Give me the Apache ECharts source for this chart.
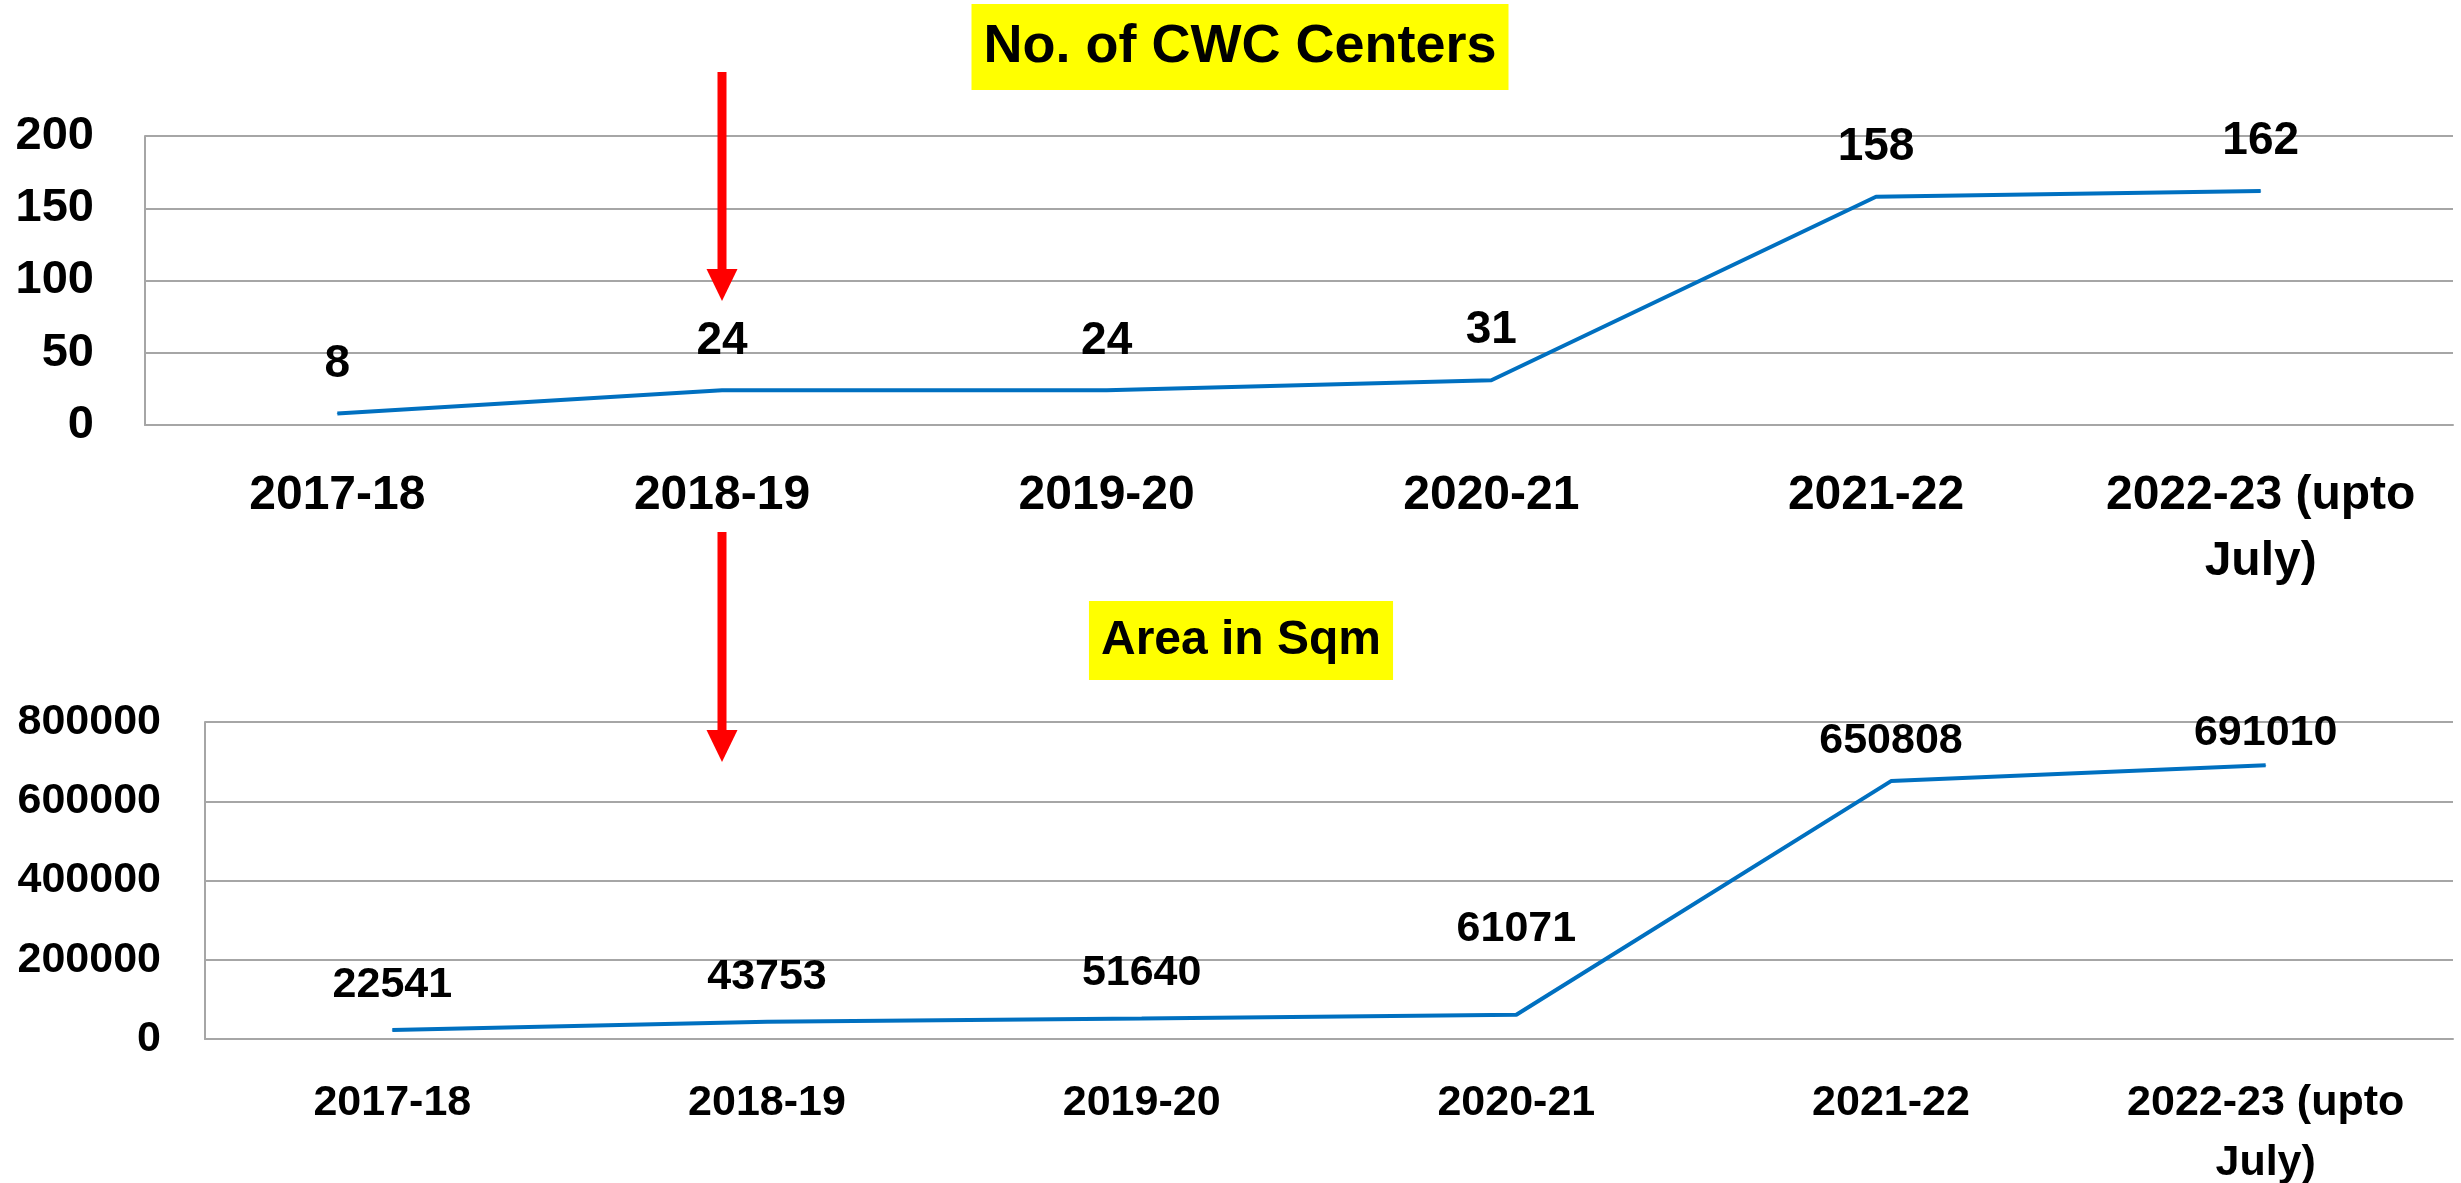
<!DOCTYPE html>
<html>
<head>
<meta charset="utf-8">
<script src="https://cdn.jsdelivr.net/npm/echarts@6/dist/echarts.min.js"></script>
<style>
  html, body { margin: 0; padding: 0; background: #fff; }
  #main { width: 2461px; height: 1183px; }
</style>
</head>
<body>
<div id="main"></div>
<script>
  // categories (financial years)
  var years = ['2017-18', '2018-19', '2019-20', '2020-21', '2021-22', '2022-23 (upto July)'];
  // No. of CWC centers
  var centers = [8, 24, 24, 31, 158, 162];
  // area in sqm
  var area = [22541, 43753, 51640, 61071, 650808, 691010];
  var centerTicks = [0, 50, 100, 150, 200];
  var areaTicks = [0, 200000, 400000, 600000, 800000];

  var FF = "'Liberation Sans', Arial, sans-serif";
  var gridColor = '#a6a6a6';
  var lineColor = '#0070c0';

  function wrapYear(v) {
    return v.replace(' July)', '\nJuly)');
  }

  // labels in the area chart sit at slightly different heights in the original
  var areaLabelGap = { 3: 64, 4: 18, 5: 10 };
  var areaData = area.map(function (v, i) {
    if (areaLabelGap[i] == null) return v;
    return { value: v, label: { distance: areaLabelGap[i] } };
  });

  var myChart = echarts.init(document.getElementById('main'));
  var option = {
    backgroundColor: '#fff',
    animation: false,
    title: [
      {
        text: 'No. of CWC Centers',
        left: 1228, top: 4, textAlign: 'center',
        padding: [10, 12],
        backgroundColor: '#ffff00',
        textStyle: { fontFamily: FF, fontWeight: 'bold', fontSize: 54, lineHeight: 66, color: '#000' }
      },
      {
        text: 'Area in Sqm',
        left: 1229, top: 601, textAlign: 'center',
        padding: [8, 12],
        backgroundColor: '#ffff00',
        textStyle: { fontFamily: FF, fontWeight: 'bold', fontSize: 48, lineHeight: 63, color: '#000' }
      }
    ],
    grid: [
      { left: 145, right: 8, top: 136, height: 289, outerBoundsMode: 'none' },
      { left: 205, right: 8, top: 722, height: 317, outerBoundsMode: 'none' }
    ],
    xAxis: [
      {
        type: 'category', gridIndex: 0, data: years,
        axisLine: { lineStyle: { color: gridColor, width: 2 } },
        axisTick: { show: false },
        axisLabel: { fontFamily: FF, fontWeight: 'bold', fontSize: 48, lineHeight: 66, color: '#000', margin: 38, interval: 0, formatter: wrapYear }
      },
      {
        type: 'category', gridIndex: 1, data: years,
        axisLine: { lineStyle: { color: gridColor, width: 2 } },
        axisTick: { show: false },
        axisLabel: { fontFamily: FF, fontWeight: 'bold', fontSize: 43, lineHeight: 60, color: '#000', margin: 34, interval: 0, formatter: wrapYear }
      }
    ],
    yAxis: [
      {
        type: 'value', gridIndex: 0,
        min: centerTicks[0], max: centerTicks[centerTicks.length - 1], interval: centerTicks[1] - centerTicks[0],
        axisLine: { show: true, lineStyle: { color: gridColor, width: 2 } },
        axisTick: { show: false },
        splitLine: { lineStyle: { color: gridColor, width: 2 } },
        axisLabel: { fontFamily: FF, fontWeight: 'bold', fontSize: 47, color: '#000', margin: 51 }
      },
      {
        type: 'value', gridIndex: 1,
        min: areaTicks[0], max: areaTicks[areaTicks.length - 1], interval: areaTicks[1] - areaTicks[0],
        axisLine: { show: true, lineStyle: { color: gridColor, width: 2 } },
        axisTick: { show: false },
        splitLine: { lineStyle: { color: gridColor, width: 2 } },
        axisLabel: {
          fontFamily: FF, fontWeight: 'bold', fontSize: 43, color: '#000', margin: 44,
          formatter: function (v) { return String(v); }
        }
      }
    ],
    series: [
      {
        name: 'No. of CWC Centers', type: 'line', xAxisIndex: 0, yAxisIndex: 0,
        data: centers,
        symbol: 'circle', symbolSize: 1,
        itemStyle: { color: lineColor },
        lineStyle: { color: lineColor, width: 4 },
        label: { show: true, position: 'top', distance: 26, fontFamily: FF, fontWeight: 'bold', fontSize: 46, color: '#000' }
      },
      {
        name: 'Area in Sqm', type: 'line', xAxisIndex: 1, yAxisIndex: 1,
        data: areaData,
        symbol: 'circle', symbolSize: 1,
        itemStyle: { color: lineColor },
        lineStyle: { color: lineColor, width: 4 },
        label: { show: true, position: 'top', distance: 23, fontFamily: FF, fontWeight: 'bold', fontSize: 43, color: '#000' }
      }
    ]
  };
  myChart.setOption(option);

  // red arrows pointing at 2018-19
  var ax = myChart.convertToPixel({ xAxisIndex: 0 }, years[1]);
  function arrow(x, y0, y1, headLen) {
    return [
      { type: 'rect', shape: { x: x - 4.5, y: y0, width: 9, height: y1 - y0 - headLen }, style: { fill: '#ff0000' } },
      { type: 'polygon', shape: { points: [[x - 15.5, y1 - headLen], [x + 15.5, y1 - headLen], [x, y1]] }, style: { fill: '#ff0000' } }
    ];
  }
  myChart.setOption({
    graphic: arrow(ax, 72, 301, 32).concat(arrow(ax, 532, 762, 32))
  });
</script>
</body>
</html>
